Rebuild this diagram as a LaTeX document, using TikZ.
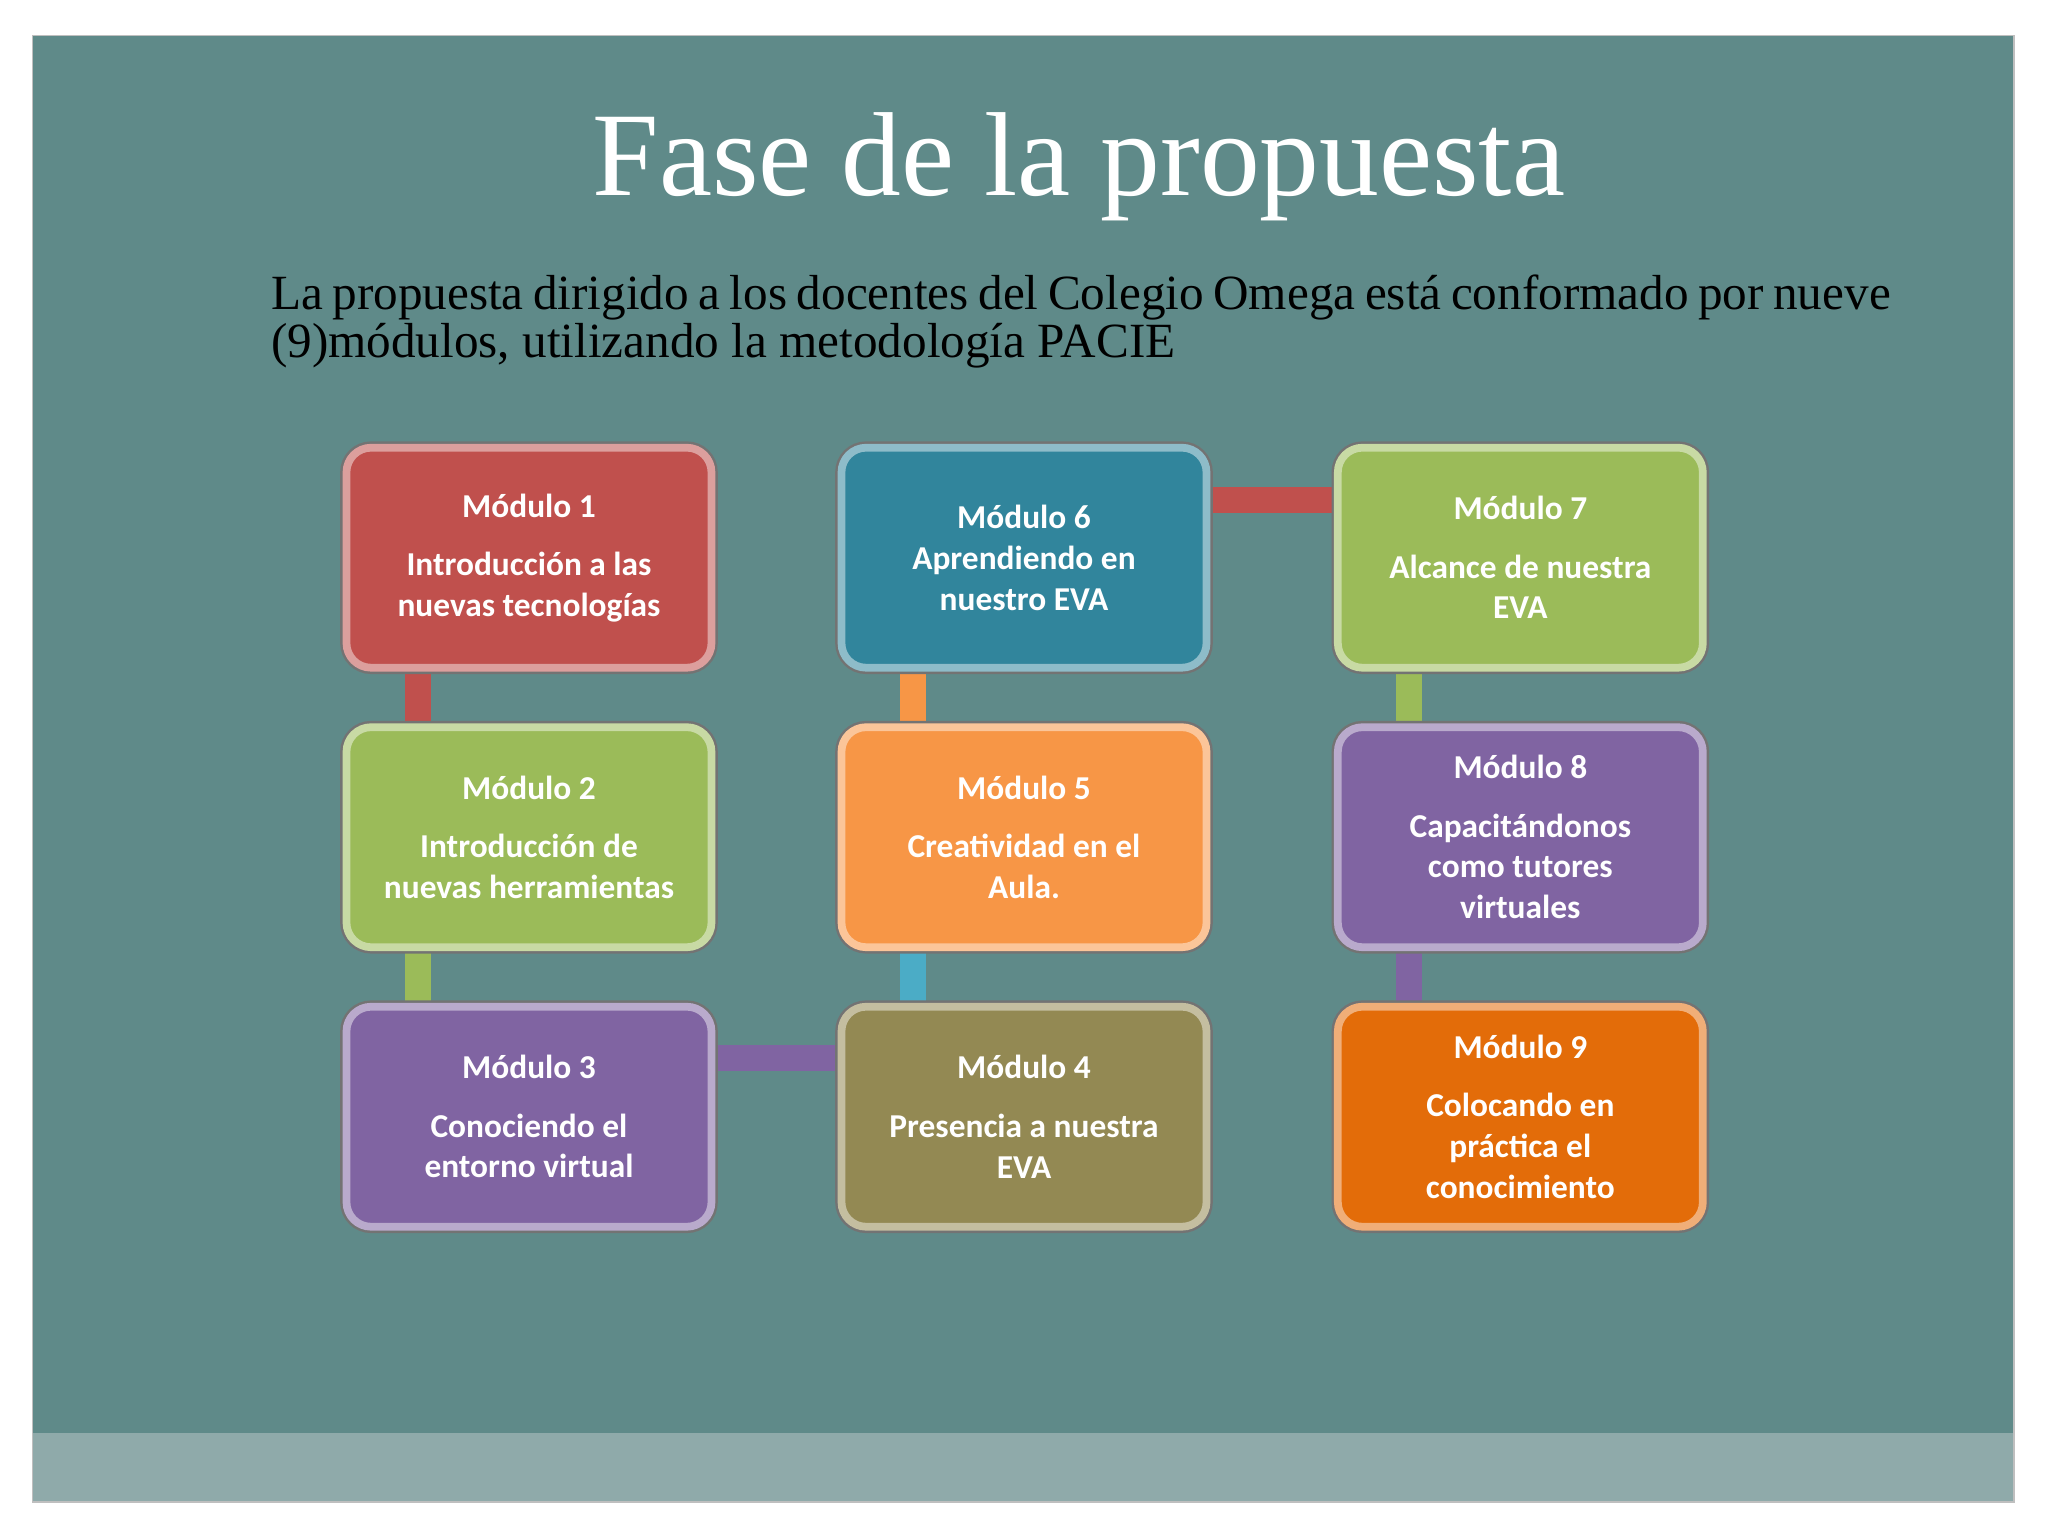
\documentclass[tikz,border=0pt]{standalone}
\usepackage{fontspec}
\setmainfont{Liberation Serif}
\newfontfamily\boxfont{Carlito}
\begin{document}
\begin{tikzpicture}[x=0.01306cm,y=-0.01306cm,
  mod/.style={rounded corners=9pt,minimum width=286\pgfkeysvalueof{/pgf/minimum width}},
  bx/.style={draw=#1!55!white,line width=2.2pt,fill=#1,rounded corners=7pt,minimum width=3.65cm,minimum height=2.2cm,
    double=none,font=\boxfont\bfseries\fontsize{9.5}{11.6}\selectfont,text=white,align=center,
    preaction={draw=black!55,line width=3.6pt}},
  bar/.style={line width=7.5pt,#1}]
\useasboundingbox (0,0) rectangle (1568,1176);
\fill[white] (0,0) rectangle (1568,1176);
\fill[fill={rgb,255:red,95;green,138;blue,137}] (25,27) rectangle (1542,1150);
\fill[fill={rgb,255:red,143;green,170;blue,170}] (25,1097) rectangle (1542,1150);
\draw[black!25] (25,27) rectangle (1542,1150);
\definecolor{cr}{RGB}{192,80,77}\definecolor{cg}{RGB}{155,187,89}\definecolor{cp}{RGB}{128,100,162}
\definecolor{cb}{RGB}{49,133,156}\definecolor{co}{RGB}{247,150,70}\definecolor{cl}{RGB}{147,137,83}
\definecolor{cd}{RGB}{227,108,9}\definecolor{cc}{RGB}{75,172,198}
\node (title) at (826,128) {\fontsize{34}{40}\selectfont\color{white}Fase de la propuesta};
\node[anchor=north west,text width=1240\pgflinewidth/\pgflinewidth*0.01306cm,align=justify,inner sep=0] (body) at (207,210)
 {\fontsize{14}{17}\selectfont La propuesta dirigido a los docentes del Colegio Omega está conformado por nueve (9)módulos, utilizando la metodología PACIE};
% connectors
\coordinate (a1) at (320,513); \coordinate (a2) at (320,555);
\coordinate (b1) at (320,727); \coordinate (b2) at (320,769);
\coordinate (c1) at (699,513); \coordinate (c2) at (699,555);
\coordinate (d1) at (699,727); \coordinate (d2) at (699,769);
\coordinate (e1) at (1079,513); \coordinate (e2) at (1079,555);
\coordinate (f1) at (1079,727); \coordinate (f2) at (1079,769);
\coordinate (g1) at (548,810); \coordinate (g2) at (641,810);
\coordinate (h1) at (928,383); \coordinate (h2) at (1021,383);
\draw[bar=cr] (a1)--(a2); \draw[bar=cg] (b1)--(b2);
\draw[bar=co] (c1)--(c2); \draw[bar=cc] (d1)--(d2);
\draw[bar=cg] (e1)--(e2); \draw[bar=cp] (f1)--(f2);
\draw[bar=cp] (g1)--(g2); \draw[bar=cr] (h1)--(h2);
\node[bx=cr] (m1) at (405,427) {Módulo 1\\[5pt]Introducción a las\\nuevas tecnologías};
\node[bx=cg] (m2) at (405,641) {Módulo 2\\[5pt]Introducción de\\nuevas herramientas};
\node[bx=cp] (m3) at (405,855) {Módulo 3\\[5pt]Conociendo el\\entorno virtual};
\node[bx=cl] (m4) at (784,855) {Módulo 4\\[5pt]Presencia a nuestra\\EVA};
\node[bx=co] (m5) at (784,641) {Módulo 5\\[5pt]Creatividad en el\\Aula.};
\node[bx=cb] (m6) at (784,427) {Módulo 6\\Aprendiendo en\\nuestro EVA};
\node[bx=cg] (m7) at (1164,427) {Módulo 7\\[5pt]Alcance de nuestra\\EVA};
\node[bx=cp] (m8) at (1164,641) {Módulo 8\\[5pt]Capacitándonos\\como tutores\\virtuales};
\node[bx=cd] (m9) at (1164,855) {Módulo 9\\[5pt]Colocando en\\práctica el\\conocimiento};
\end{tikzpicture}
\end{document}
